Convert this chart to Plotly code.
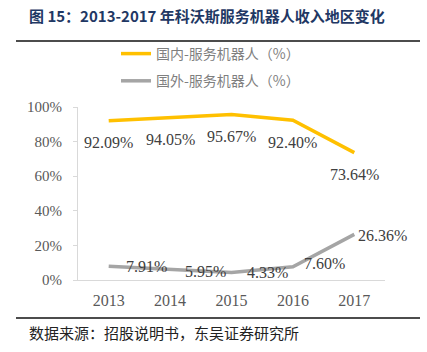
import plotly.graph_objects as go

years = ["2013", "2014", "2015", "2016", "2017"]
domestic = [92.09, 94.05, 95.67, 92.40, 73.64]
overseas = [7.91, 5.95, 4.33, 7.60, 26.36]
series_names = ["国内-服务机器人（%）", "国外-服务机器人（%）"]
title_text = "图 15：2013-2017 年科沃斯服务机器人收入地区变化"
source_text = "数据来源：招股说明书，东吴证券研究所"

W, H = 427, 352
L, R, T, B = 78, 42, 107, 72
PW, PH = W - L - R, H - T - B

def px_x(p):
    return (p - L) / PW

def px_y(p):
    return (H - B - p) / PH

serif = "Liberation Serif, Times New Roman, serif"
cjk = "Noto Sans CJK SC, sans-serif"

fig = go.Figure()
fig.add_trace(go.Scatter(x=years, y=domestic, mode="lines", name=series_names[0],
                         line=dict(color="#FFC000", width=3.5), legendgroup="a"))
fig.add_trace(go.Scatter(x=years, y=overseas, mode="lines", name=series_names[1],
                         line=dict(color="#A5A5A5", width=3.5), legendgroup="b"))

annotations = []
for i, v in enumerate(domestic):
    annotations.append(dict(x=i, y=v, xref="x", yref="y", text=f"{v:.2f}%", showarrow=False,
                            yshift=-22, font=dict(family=serif, size=16, color="#404040")))
gshift = [15, 13, 13, 9, 2]
gy = [0, -2, 0, 3, -1]
for i, (v, dx, dy) in enumerate(zip(overseas, gshift, gy)):
    annotations.append(dict(x=i, y=v, xref="x", yref="y", text=f"{v:.2f}%", showarrow=False,
                            xanchor="left", xshift=dx, yshift=dy,
                            font=dict(family=serif, size=16, color="#404040")))

annotations.append(dict(x=px_x(27), y=px_y(15), xref="paper", yref="paper", text=f"<b>{title_text}</b>",
                        showarrow=False, xanchor="left", yanchor="middle",
                        font=dict(family=cjk, size=15, color="#1F3864")))
annotations.append(dict(x=px_x(27), y=px_y(332), xref="paper", yref="paper", text=source_text,
                        showarrow=False, xanchor="left", yanchor="middle",
                        font=dict(family=cjk, size=15, color="#222222")))

shapes = [
    dict(type="line", xref="paper", yref="paper", x0=px_x(16), x1=px_x(420), y0=px_y(41), y1=px_y(41),
         line=dict(color="#111111", width=1.5)),
    dict(type="line", xref="paper", yref="paper", x0=px_x(16), x1=px_x(420), y0=px_y(318), y1=px_y(318),
         line=dict(color="#111111", width=1.5)),
]

fig.update_layout(
    width=W, height=H,
    margin=dict(l=L, r=R, t=T, b=B, autoexpand=False),
    paper_bgcolor="white", plot_bgcolor="white",
    showlegend=True,
    legend=dict(xref="container", yref="container", x=116 / W, y=1 - 38 / H,
                xanchor="left", yanchor="top", traceorder="grouped", tracegroupgap=6,
                font=dict(family=cjk, size=14, color="#7F7F7F"), bgcolor="rgba(0,0,0,0)",
                itemwidth=30),
    xaxis=dict(type="category", range=[-0.5, 4.5], showline=True, linecolor="#D9D9D9", linewidth=1,
               showgrid=False, ticks="", tickfont=dict(family=serif, size=16, color="#595959"),
               ticklabelstandoff=6, zeroline=False, fixedrange=True),
    yaxis=dict(range=[0, 100], dtick=20, ticksuffix="%", showline=True, linecolor="#D9D9D9", linewidth=1,
               showgrid=False, ticks="outside", ticklen=4, tickcolor="#D9D9D9",
               tickfont=dict(family=serif, size=15, color="#595959"), ticklabelstandoff=8,
               zeroline=False, fixedrange=True),
    annotations=annotations,
    shapes=shapes,
)

fig.write_html("out.html")
